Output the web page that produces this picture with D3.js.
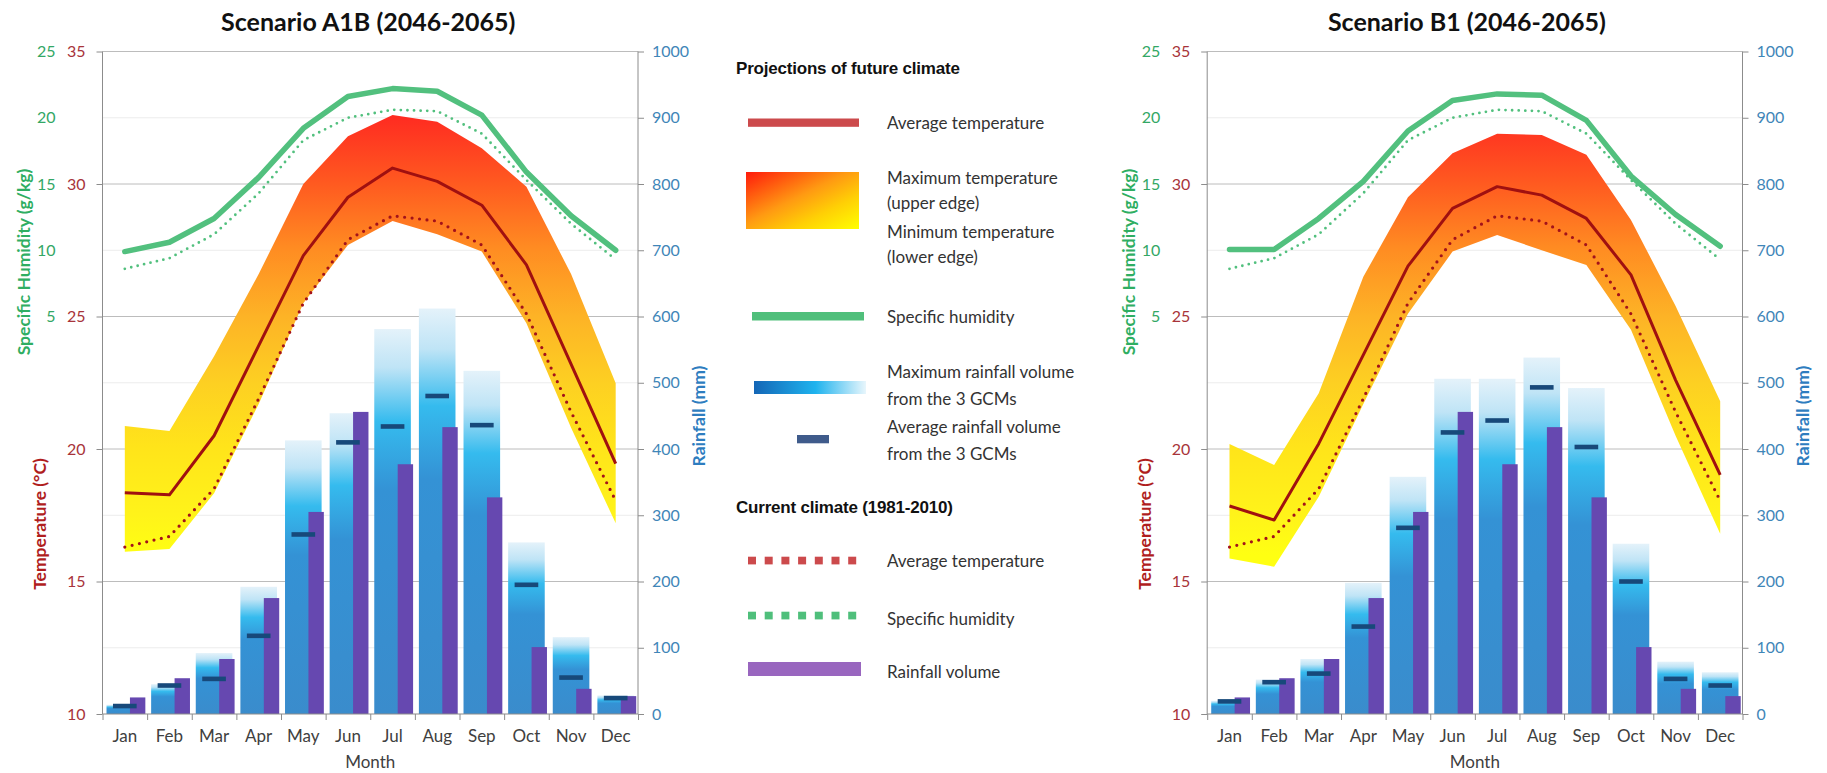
<!DOCTYPE html>
<html>
<head>
<meta charset="utf-8">
<script src="https://cdn.jsdelivr.net/npm/d3@7"></script>
<style>
body { margin: 0; background: #fff; }
svg { display: block; font-family: Lato, "Open Sans", sans-serif; }
</style>
</head>
<body>
<div id="root"></div>
<script>
var months = ["Jan", "Feb", "Mar", "Apr", "May", "Jun", "Jul", "Aug", "Sep", "Oct", "Nov", "Dec"];

// scenario A1B (2046-2065)
var tAvgA1B = [18.35, 18.27, 20.5, 23.9, 27.3, 29.5, 30.6, 30.1, 29.2, 26.95, 23.2, 19.45];
var tMaxA1B = [20.87, 20.68, 23.5, 26.6, 30.0, 31.8, 32.6, 32.35, 31.35, 29.9, 26.6, 22.48];
var tMinA1B = [16.12, 16.23, 18.33, 21.7, 25.5, 27.7, 28.6, 28.1, 27.45, 24.75, 20.8, 17.2];
var humA1B = [9.9, 10.6, 12.4, 15.5, 19.2, 21.6, 22.2, 22.0, 20.2, 15.9, 12.6, 10.0];
var rainMaxA1B = [14, 45, 92, 192, 413, 454, 581, 612, 518, 259, 116, 28];
var rainAvgA1B = [12, 43, 53, 118, 271, 410, 434, 480, 436, 195, 55, 24];

// scenario B1 (2046-2065)
var tAvgB1 = [17.85, 17.32, 20.2, 23.55, 26.9, 29.08, 29.9, 29.58, 28.7, 26.57, 22.6, 19.02];
var tMaxB1 = [20.19, 19.4, 22.1, 26.5, 29.5, 31.16, 31.9, 31.85, 31.1, 28.64, 25.4, 21.8];
var tMinB1 = [15.87, 15.56, 18.2, 21.7, 25.1, 27.45, 28.08, 27.5, 26.94, 24.5, 20.5, 16.8];
var humB1 = [10.05, 10.05, 12.4, 15.2, 19.0, 21.3, 21.8, 21.7, 19.8, 15.6, 12.7, 10.3];
var rainMaxB1 = [20, 52, 83, 198, 358, 506, 506, 538, 492, 257, 79, 63];
var rainAvgB1 = [19, 48, 61, 132, 281, 425, 443, 493, 403, 200, 53, 43];

// current climate (1981-2010)
var tAvgNow = [16.3, 16.7, 18.5, 21.9, 25.5, 27.9, 28.8, 28.6, 27.7, 25.1, 21.4, 18.05];
var humNow = [8.6, 9.4, 11.2, 14.3, 18.3, 20.0, 20.6, 20.5, 18.8, 15.3, 12.0, 9.3];
var rainNow = [25, 54, 83, 175, 305, 456, 377, 433, 327, 101, 38, 27];

var tempTicks = [10, 15, 20, 25, 30, 35];
var humTicks = [5, 10, 15, 20, 25];
var rainTicks = d3.range(0, 1001, 100);

var plotTop = 51.5, plotBottom = 714;

var svg = d3.select("#root").append("svg")
    .attr("width", 1827)
    .attr("height", 773);

var defs = svg.append("defs");

var yTemp = d3.scaleLinear().domain([10, 35]).range([plotBottom, plotTop]);

// heat band colour depends on height, same for both panels
var heat = defs.append("linearGradient")
    .attr("id", "heat")
    .attr("gradientUnits", "userSpaceOnUse")
    .attr("x1", 0).attr("x2", 0)
    .attr("y1", yTemp(33)).attr("y2", yTemp(16));
[[0, "#ff2321"], [0.176, "#ff5a20"], [0.32, "#ff8c22"], [0.47, "#fdb326"],
 [0.62, "#fdd022"], [0.76, "#ffe41a"], [0.91, "#fff31a"], [1, "#ffff12"]].forEach(function (s) {
    heat.append("stop").attr("offset", s[0]).attr("stop-color", s[1]);
});

var rainGrad = defs.append("linearGradient")
    .attr("id", "rain")
    .attr("x1", 0).attr("x2", 0).attr("y1", 0).attr("y2", 1);
[[0, "#e4f2fa"], [0.1, "#bfe4f6"], [0.24, "#35bbee"], [0.42, "#3492d5"], [1, "#3a8ccc"]].forEach(function (s) {
    rainGrad.append("stop").attr("offset", s[0]).attr("stop-color", s[1]);
});

var legHeat = defs.append("linearGradient")
    .attr("id", "legHeat")
    .attr("x1", 0).attr("y1", 0).attr("x2", 1).attr("y2", 1);
[[0, "#ff1a0c"], [0.45, "#ff9a12"], [0.7, "#ffcf05"], [1, "#ffff00"]].forEach(function (s) {
    legHeat.append("stop").attr("offset", s[0]).attr("stop-color", s[1]);
});

var legRain = defs.append("linearGradient")
    .attr("id", "legRain")
    .attr("x1", 0).attr("y1", 0).attr("x2", 1).attr("y2", 0);
[[0, "#1466b6"], [0.55, "#1fb3ee"], [1, "#e8f6fc"]].forEach(function (s) {
    legRain.append("stop").attr("offset", s[0]).attr("stop-color", s[1]);
});

function drawPanel(p) {
    var x = d3.scaleBand().domain(months).range([p.left, p.right]);
    var bw = x.bandwidth();
    var yR = d3.scaleLinear().domain([0, 1000]).range([plotBottom, plotTop]);
    var yH = d3.scaleLinear().domain([0, 25]).range([yR(500), yR(1000)]);
    var cx = function (i) { return x(months[i]) + bw / 2; };
    var idx = d3.range(months.length);
    var g = svg.append("g");

    // gridlines
    g.selectAll(".grid")
        .data(rainTicks.slice(1))
        .enter().append("line")
        .attr("x1", p.left).attr("x2", p.right)
        .attr("y1", function (d) { return yR(d); })
        .attr("y2", function (d) { return yR(d); })
        .attr("stroke", function (d) { return d % 200 === 0 ? "#bcbcbc" : "#ececec"; })
        .attr("stroke-width", 1);

    // max / min temperature band
    var band = d3.area()
        .x(cx)
        .y0(function (i) { return yTemp(p.tMin[i]); })
        .y1(function (i) { return yTemp(p.tMax[i]); });
    g.append("path").datum(idx).attr("d", band).attr("fill", "url(#heat)");

    // max rainfall bars
    g.selectAll(".rmax")
        .data(idx)
        .enter().append("rect")
        .attr("x", function (i) { return x(months[i]) + bw * 0.09; })
        .attr("width", bw * 0.82)
        .attr("y", function (i) { return yR(p.rainMax[i]); })
        .attr("height", function (i) { return plotBottom - yR(p.rainMax[i]); })
        .attr("fill", "url(#rain)");

    // current rainfall bars
    g.selectAll(".rnow")
        .data(idx)
        .enter().append("rect")
        .attr("x", function (i) { return x(months[i]) + bw * 0.615; })
        .attr("width", bw * 0.345)
        .attr("y", function (i) { return yR(rainNow[i]); })
        .attr("height", function (i) { return plotBottom - yR(rainNow[i]); })
        .attr("fill", "#6648b0");

    // average rainfall dashes
    g.selectAll(".ravg")
        .data(idx)
        .enter().append("rect")
        .attr("x", function (i) { return cx(i) - bw * 0.265; })
        .attr("width", bw * 0.53)
        .attr("y", function (i) { return yR(p.rainAvg[i]) - 2.3; })
        .attr("height", 4.6)
        .attr("fill", "#17497a");

    var line = function (arr, sc) {
        return d3.line().x(cx).y(function (i) { return sc(arr[i]); })(idx);
    };

    g.append("path").attr("d", line(humNow, yH))
        .attr("fill", "none").attr("stroke", "#52c07e").attr("stroke-width", 2.8)
        .attr("stroke-linecap", "round").attr("stroke-dasharray", "0,6.6");
    g.append("path").attr("d", line(p.hum, yH))
        .attr("fill", "none").attr("stroke", "#52c07e").attr("stroke-width", 5.5)
        .attr("stroke-linecap", "round").attr("stroke-linejoin", "round");
    g.append("path").attr("d", line(tAvgNow, yTemp))
        .attr("fill", "none").attr("stroke", "#a3121a").attr("stroke-width", 3.2)
        .attr("stroke-linecap", "round").attr("stroke-dasharray", "0,7.5");
    g.append("path").attr("d", line(p.tAvg, yTemp))
        .attr("fill", "none").attr("stroke", "#a01010").attr("stroke-width", 3)
        .attr("stroke-linejoin", "round");

    // axis lines
    g.append("line").attr("x1", p.left).attr("x2", p.left)
        .attr("y1", plotTop).attr("y2", plotBottom).attr("stroke", "#8c8c8c");
    g.append("line").attr("x1", p.right).attr("x2", p.right)
        .attr("y1", plotTop).attr("y2", plotBottom).attr("stroke", "#8c8c8c");
    g.append("line").attr("x1", p.left).attr("x2", p.right)
        .attr("y1", plotBottom).attr("y2", plotBottom).attr("stroke", "#8c8c8c");

    function style(sel, color, size) {
        sel.select(".domain").remove();
        sel.selectAll(".tick line").attr("stroke", "#8c8c8c");
        sel.selectAll(".tick text")
            .attr("fill", color)
            .style("font-size", size + "px")
            .style("font-family", "Lato, sans-serif");
    }

    g.append("g")
        .attr("transform", "translate(" + p.left + ",0)")
        .call(d3.axisLeft(yTemp).tickValues(tempTicks).tickSize(6).tickPadding(11))
        .call(style, "#a8343a", 16);

    g.append("g")
        .attr("transform", "translate(" + p.left + ",0)")
        .call(d3.axisLeft(yH).tickValues(humTicks).tickSize(0).tickPadding(47))
        .call(style, "#33a765", 16);

    g.append("g")
        .attr("transform", "translate(" + p.right + ",0)")
        .call(d3.axisRight(yR).tickValues(rainTicks).tickFormat(d3.format("d")).tickSize(6).tickPadding(8))
        .call(style, "#3f86b8", 16);

    var xEdge = d3.scaleLinear().domain([0, months.length]).range([p.left, p.right]);
    g.append("g")
        .attr("transform", "translate(0," + plotBottom + ")")
        .call(d3.axisBottom(xEdge).tickValues(d3.range(months.length + 1)).tickFormat("").tickSize(6))
        .call(style, "#404040", 17);

    g.append("g")
        .attr("transform", "translate(0," + plotBottom + ")")
        .call(d3.axisBottom(x).tickSize(0).tickPadding(16))
        .call(style, "#404040", 17);

    var mid = (p.left + p.right) / 2;
    g.append("text").attr("x", mid).attr("y", 768)
        .attr("text-anchor", "middle").attr("fill", "#404040")
        .style("font-size", "17px").text("Month");

    g.append("text").attr("x", mid + p.titleShift).attr("y", 31)
        .attr("text-anchor", "middle").attr("fill", "#111")
        .style("font-size", "25px").style("font-weight", "bold")
        .text(p.title);

    function vTitle(xPos, yPos, color, txt) {
        g.append("text")
            .attr("transform", "translate(" + xPos + "," + yPos + ") rotate(-90)")
            .attr("text-anchor", "middle").attr("dominant-baseline", "central")
            .attr("fill", color).style("font-size", "17.5px").style("font-weight", "bold")
            .text(txt);
    }
    vTitle(p.left - 79, 262, "#2fae62", "Specific Humidity (g/kg)");
    vTitle(p.left - 63, 524, "#b01e1e", "Temperature (°C)");
    vTitle(p.right + 60, 416, "#2e7dbf", "Rainfall (mm)");
}

drawPanel({
    left: 102.5, right: 638, title: "Scenario A1B (2046-2065)", titleShift: -2,
    tAvg: tAvgA1B, tMax: tMaxA1B, tMin: tMinA1B, hum: humA1B,
    rainMax: rainMaxA1B, rainAvg: rainAvgA1B
});
drawPanel({
    left: 1207.2, right: 1742.5, title: "Scenario B1 (2046-2065)", titleShift: -8,
    tAvg: tAvgB1, tMax: tMaxB1, tMin: tMinB1, hum: humB1,
    rainMax: rainMaxB1, rainAvg: rainAvgB1
});

// legend
var leg = svg.append("g");
var legTextX = 887;

var legHeads = [["Projections of future climate", 74], ["Current climate (1981-2010)", 513]];
leg.selectAll(".head").data(legHeads).enter().append("text")
    .attr("x", 736).attr("y", function (d) { return d[1]; })
    .attr("fill", "#111")
    .style("font-family", "'Liberation Sans', Arial, sans-serif")
    .style("font-size", "17px").style("font-weight", "bold")
    .style("letter-spacing", "-0.2px")
    .text(function (d) { return d[0]; });

var legLabels = [
    ["Average temperature", 129], ["Maximum temperature", 184], ["(upper edge)", 209],
    ["Minimum temperature", 238], ["(lower edge)", 263], ["Specific humidity", 323],
    ["Maximum rainfall volume", 378], ["from the 3 GCMs", 405],
    ["Average rainfall volume", 433], ["from the 3 GCMs", 460],
    ["Average temperature", 567], ["Specific humidity", 625], ["Rainfall volume", 678]
];
leg.selectAll(".lab").data(legLabels).enter().append("text")
    .attr("x", legTextX).attr("y", function (d) { return d[1]; })
    .attr("fill", "#333")
    .style("font-size", "17px")
    .text(function (d) { return d[0]; });

var legBoxes = [
    [748, 118.5, 111, 8.3, "#cc4a4c"],
    [746, 172, 113, 57, "url(#legHeat)"],
    [752, 312, 112, 8.5, "#50bf7b"],
    [754, 381, 112, 13, "url(#legRain)"],
    [797, 435, 32, 8.3, "#3f5b8b"],
    [748, 662, 113, 14, "#9966bf"]
];
leg.selectAll(".box").data(legBoxes).enter().append("rect")
    .attr("x", function (d) { return d[0]; })
    .attr("y", function (d) { return d[1]; })
    .attr("width", function (d) { return d[2]; })
    .attr("height", function (d) { return d[3]; })
    .attr("fill", function (d) { return d[4]; });

var legDots = [[556.7, "#cc4a4c"], [611.7, "#4fbf7b"]];
legDots.forEach(function (d) {
    leg.selectAll(null).data(d3.range(7)).enter().append("rect")
        .attr("x", function (i) { return 748 + i * 16.7; })
        .attr("y", d[0]).attr("width", 8).attr("height", 7.7)
        .attr("fill", d[1]);
});
</script>
</body>
</html>
